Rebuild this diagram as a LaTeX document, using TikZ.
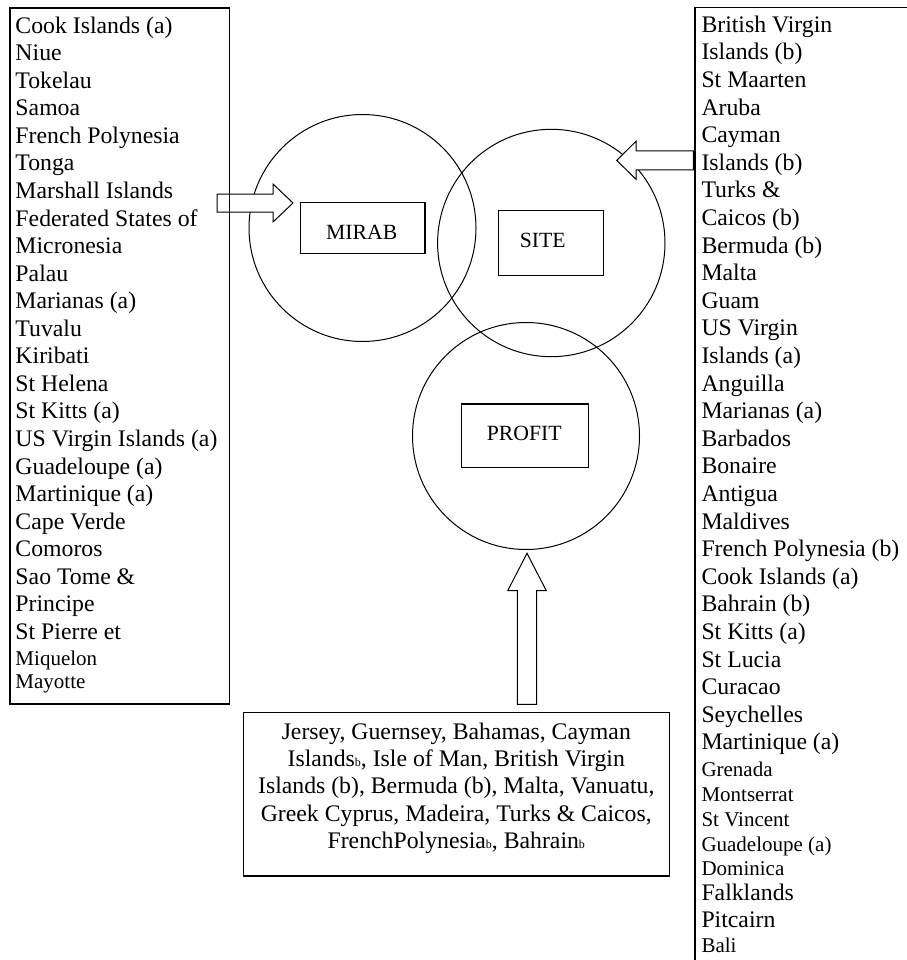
\documentclass[tikz,border=0pt]{standalone}
\usepackage{fontspec}
\setmainfont{Liberation Serif}
\begin{document}
\begin{tikzpicture}[x=1pt,y=-1pt,
  listfont/.style={font=\fontsize{23.75}{27.5}\selectfont},
  smallfont/.style={font=\fontsize{21}{25}\selectfont},
  item/.style={anchor=base west, inner sep=0pt, outer sep=0pt},
  centreitem/.style={anchor=base, inner sep=0pt, outer sep=0pt, listfont},
  frame/.style={draw, line width=1.3pt, rectangle, inner sep=0pt, outer sep=0pt},
  ring/.style={draw, circle, line width=1pt, inner sep=0pt, outer sep=0pt, minimum size=227pt},
  tag/.style={draw, line width=1.2pt, rectangle, inner sep=0pt, outer sep=0pt},
  tagtext/.style={anchor=base, inner sep=0pt, font=\fontsize{21.7}{26}\selectfont},
  blockarrow/.style={draw, fill=white, line width=1pt, line join=miter}
]
\newcommand{\smallb}{{\fontsize{12}{12}\selectfont b}}
\useasboundingbox (0,0) rectangle (906,960);
\fill[white] (0,0) rectangle (906,960);

% the three overlapping circles
\node[ring] (mirabring)  at (362.5,228) {};
\node[ring, minimum size=227.4pt] (sitering) at (551.3,243) {};
\node[ring] (profitring) at (526,436) {};

% labels inside the circles
\node[tag, minimum width=124.7pt, minimum height=51.4pt] (mirabtag) at (362.7,228) {};
\node[tag, minimum width=105pt, minimum height=65.4pt] (sitetag) at (551.2,243) {};
\node[tag, minimum width=126.6pt, minimum height=63.3pt] (profittag) at (525,435.7) {};
\node[tagtext] (mirabtxt) at (361.7,239.3) {MIRAB};
\node[tagtext] (sitetxt) at (542.7,247.3) {SITE};
\node[tagtext] (profittxt) at (524.2,440) {PROFIT};

% block arrows feeding the circles
\draw[blockarrow] (217,194) -- (273,194) -- (273,184) -- (293,203)
  -- (273,222) -- (273,212) -- (217,212) -- cycle;
\draw[blockarrow] (693.3,151) -- (636,151) -- (636,141.3) -- (616.7,160.4)
  -- (636,179.3) -- (636,170) -- (693.3,170) -- cycle;
\draw[blockarrow] (517.3,704.3) -- (517.3,590.7) -- (507.7,590.7) -- (527,553.3)
  -- (546.3,590.7) -- (536.7,590.7) -- (536.7,704.3) -- cycle;

% list boxes
\node[frame, anchor=north west, minimum width=219.3pt, minimum height=696pt] (lbox) at (10,8) {};
\node[frame, anchor=north west, minimum width=240pt, minimum height=980pt] (rbox) at (695,7.3) {};
\node[frame, anchor=north west, minimum width=426pt, minimum height=163.3pt] (bbox) at (243.3,712.7) {};

% left list
\foreach \t [count=\i from 0] in {Cook Islands (a), Niue, Tokelau, Samoa,
  French Polynesia, Tonga, Marshall Islands, Federated States of, Micronesia,
  Palau, Marianas (a), Tuvalu, Kiribati, St Helena, St Kitts (a),
  US Virgin Islands (a), Guadeloupe (a), Martinique (a), Cape Verde, Comoros,
  Sao Tome \&, Principe, St Pierre et}
  \node[item, listfont] (left\i) at (15.5,{33.2+27.55*\i}) {\t};
\node[item, smallfont] (left23) at (15.5,665) {Miquelon};
\node[item, smallfont] (left24) at (15.5,688.3) {Mayotte};

% right list
\foreach \t [count=\i from 0] in {British Virgin, Islands (b), St Maarten, Aruba,
  Cayman, Islands (b), Turks \&, Caicos (b), Bermuda (b), Malta, Guam,
  US Virgin, Islands (a), Anguilla, Marianas (a), Barbados, Bonaire, Antigua,
  Maldives, French Polynesia (b), Cook Islands (a), Bahrain (b), St Kitts (a),
  St Lucia, Curacao, Seychelles, Martinique (a)}
  \node[item, listfont] (right\i) at (701.5,{32.3+27.6*\i}) {\t};
\node[item, smallfont] (right27) at (701.5,776) {Grenada};
\node[item, smallfont] (right28) at (701.5,801) {Montserrat};
\node[item, smallfont] (right29) at (701.5,826) {St Vincent};
\node[item, smallfont] (right30) at (701.5,851) {Guadeloupe (a)};
\node[item, smallfont] (right31) at (701.5,875.5) {Dominica};
\node[item, listfont] (right32) at (701.5,900.5) {Falklands};
\node[item, listfont] (right33) at (701.5,927.5) {Pitcairn};
\node[item, smallfont] (right34) at (701.5,952.5) {Bali};

% bottom list
\node[centreitem] (bot1) at (456.3,739.3) {Jersey, Guernsey, Bahamas, Cayman};
\node[centreitem] (bot2) at (456.3,766.6) {Islands\smallb, Isle of Man, British Virgin};
\node[centreitem] (bot3) at (456.3,793.8) {Islands (b), Bermuda (b), Malta, Vanuatu,};
\node[centreitem] (bot4) at (456.3,821.1) {Greek Cyprus, Madeira, Turks \& Caicos,};
\node[centreitem] (bot5) at (456.3,848.3) {FrenchPolynesia\smallb, Bahrain\smallb};
\end{tikzpicture}
\end{document}
